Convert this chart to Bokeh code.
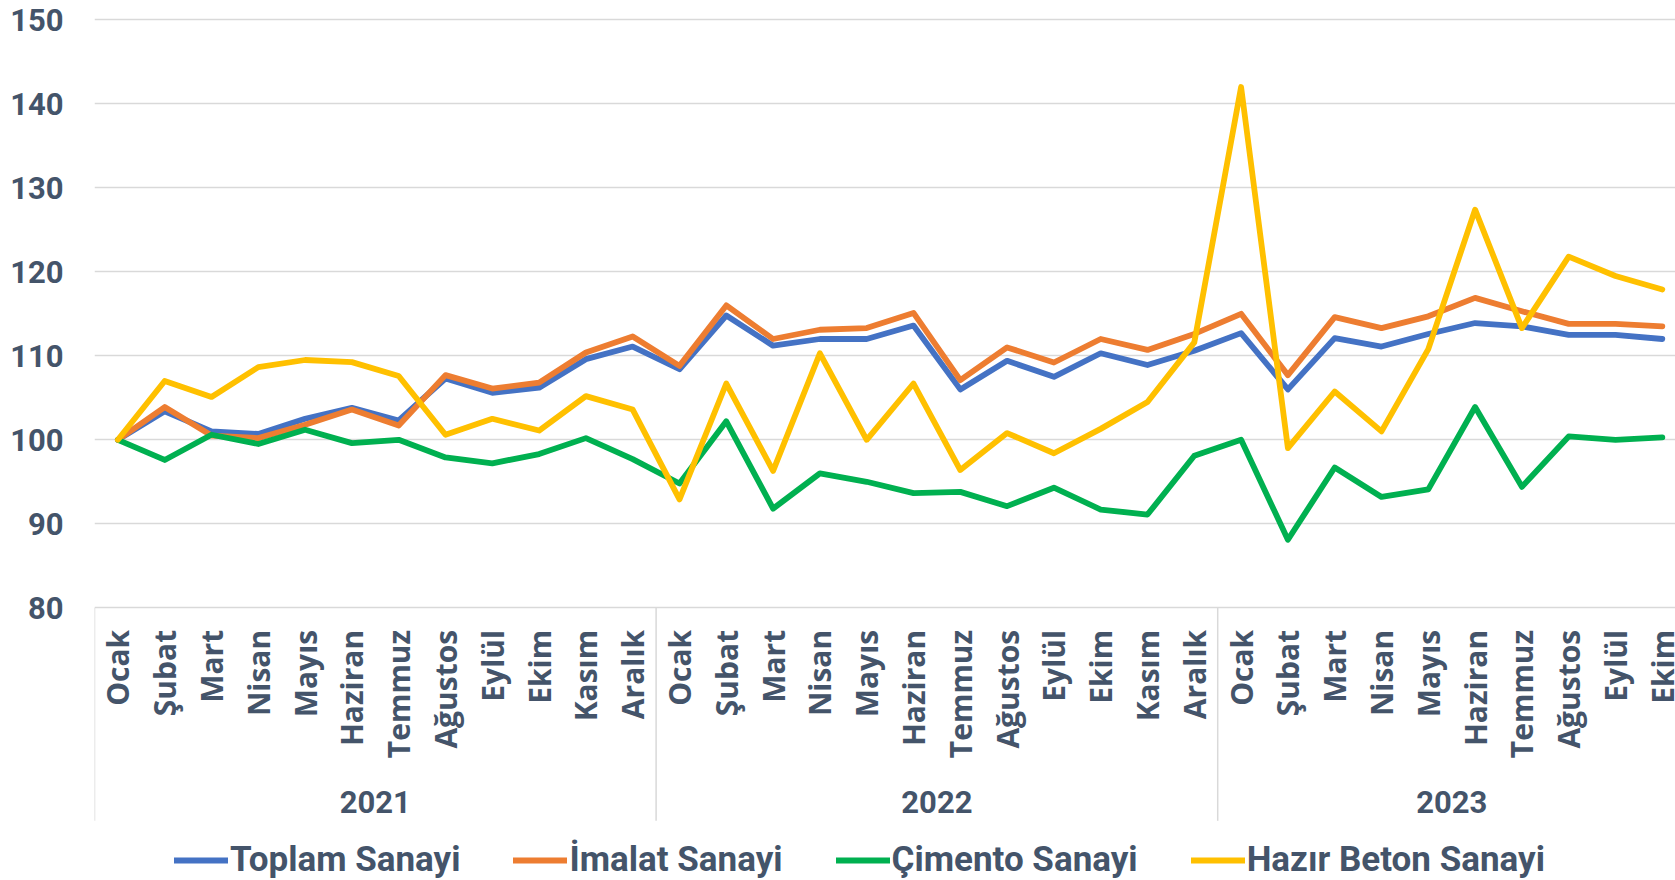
from math import pi
from bokeh.plotting import figure
from bokeh.models import Range1d, FixedTicker, Legend, LegendItem
from bokeh.core.properties import value
from bokeh.embed import file_html
from bokeh.resources import INLINE

years = ["2021", "2022", "2023"]
months_per_year = [12, 12, 10]
month_names = ["Ocak", "Şubat", "Mart", "Nisan", "Mayıs", "Haziran",
               "Temmuz", "Ağustos", "Eylül", "Ekim", "Kasım", "Aralık"]

toplam = [100, 103.4, 101.0, 100.7, 102.5, 103.8, 102.3, 107.3, 105.6, 106.2, 109.6, 111.1,
          108.4, 114.8, 111.2, 112.0, 112.0, 113.6, 106.0, 109.4, 107.5, 110.3, 108.9, 110.6,
          112.7, 106.0, 112.1, 111.1, 112.6, 113.9, 113.5, 112.5, 112.5, 112.0]
imalat = [100, 103.9, 100.5, 100.2, 101.8, 103.6, 101.7, 107.7, 106.1, 106.8, 110.4, 112.3,
          108.8, 116.0, 112.0, 113.1, 113.3, 115.1, 107.1, 111.0, 109.2, 112.0, 110.7, 112.6,
          115.0, 107.7, 114.6, 113.3, 114.7, 116.9, 115.3, 113.8, 113.8, 113.5]
cimento = [100, 97.6, 100.6, 99.5, 101.2, 99.6, 100.0, 97.9, 97.2, 98.3, 100.2, 97.7,
           94.8, 102.2, 91.8, 96.0, 95.0, 93.65, 93.8, 92.1, 94.3, 91.7, 91.1, 98.1,
           100.0, 88.1, 96.7, 93.2, 94.1, 103.9, 94.4, 100.4, 100.0, 100.3]
hazir_beton = [100, 107.0, 105.1, 108.65, 109.5, 109.25, 107.6, 100.6, 102.5, 101.1, 105.2, 103.6,
               92.9, 106.7, 96.3, 110.3, 100.0, 106.7, 96.4, 100.8, 98.4, 101.3, 104.5, 111.6,
               142.0, 99.0, 105.75, 101.0, 110.8, 127.4, 113.3, 121.8, 119.5, 117.9]

series_names = ["Toplam Sanayi", "İmalat Sanayi", "Çimento Sanayi", "Hazır Beton Sanayi"]
series_values = [toplam, imalat, cimento, hazir_beton]
colors = ["#4472C4", "#ED7D31", "#00B050", "#FFC000"]
y_ticks = [80, 90, 100, 110, 120, 130, 140, 150]

TEXT = "#44546A"
GRID = "#D9D9D9"

# layout (pixels)
FIG_W, FIG_H = 1675, 880
LEFT = 94
PX_PER_UNIT = 8.4            # vertical pixels per index point
TOP_PAD = 19.3               # space above the 150 gridline
PX_PER_MONTH = 46.8
Y_MIN, Y_MAX = y_ticks[0], y_ticks[-1]

y_top = Y_MAX + TOP_PAD / PX_PER_UNIT
y_bottom = y_top - FIG_H / PX_PER_UNIT
x_end = (FIG_W - LEFT) / PX_PER_MONTH


def below(px):
    """data y that lies px pixels below the lowest gridline"""
    return Y_MIN - px / PX_PER_UNIT


labels = []
for n in months_per_year:
    labels += month_names[:n]
xs = [i + 0.5 for i in range(len(labels))]
bounds = []
centers = []
start = 0
for n in months_per_year:
    bounds.append(start)
    centers.append(start + n / 2)
    start += n

p = figure(width=FIG_W, height=FIG_H, x_range=Range1d(0, x_end), y_range=Range1d(y_bottom, y_top),
           output_backend="svg", toolbar_location=None, x_axis_location=None,
           min_border_left=LEFT, min_border_right=0, min_border_top=0, min_border_bottom=0)
p.outline_line_color = None
p.xgrid.visible = False
p.ygrid.grid_line_color = GRID
p.ygrid.grid_line_width = 1.5
p.ygrid.ticker = FixedTicker(ticks=y_ticks)

yax = p.yaxis[0]
yax.ticker = FixedTicker(ticks=y_ticks)
yax.axis_line_color = None
yax.major_tick_line_color = None
yax.minor_tick_line_color = None
yax.major_label_standoff = 25
yax.major_label_text_font = "Roboto"
yax.major_label_text_font_style = "bold"
yax.major_label_text_font_size = "31px"
yax.major_label_text_color = TEXT

# year separators below the plot
p.segment(x0=bounds, y0=[Y_MIN] * len(bounds), x1=bounds, y1=[below(213)] * len(bounds),
          line_color=GRID, line_width=1.5)

# month labels (vertical) and year labels
p.text(x=xs, y=[below(22)] * len(xs), text=labels, angle=pi / 2,
       text_align="right", text_baseline="middle",
       text_font=value("Open Sans"), text_font_style="bold", text_font_size="30px",
       text_color=TEXT)
p.text(x=centers, y=[below(194)] * len(centers), text=years,
       text_align="center", text_baseline="middle",
       text_font=value("Roboto"), text_font_style="bold", text_font_size="31px",
       text_color=TEXT)

items = []
for name, vals, c in zip(series_names, series_values, colors):
    r = p.line(xs, vals, line_color=c, line_width=5.8, line_join="round", line_cap="round")
    items.append(LegendItem(label=value(name), renderers=[r]))

legend = Legend(items=items, orientation="horizontal", location=(80, 0))
legend.background_fill_alpha = 0
legend.border_line_alpha = 0
legend.padding = 0
legend.margin = 0
legend.spacing = 53
legend.glyph_width = 54
legend.glyph_height = 20
legend.label_standoff = 2
legend.label_text_font = "Roboto"
legend.label_text_font_style = "bold"
legend.label_text_font_size = "35px"
legend.label_text_color = TEXT
p.add_layout(legend)

open("out.html", "w").write(file_html(p, INLINE))
